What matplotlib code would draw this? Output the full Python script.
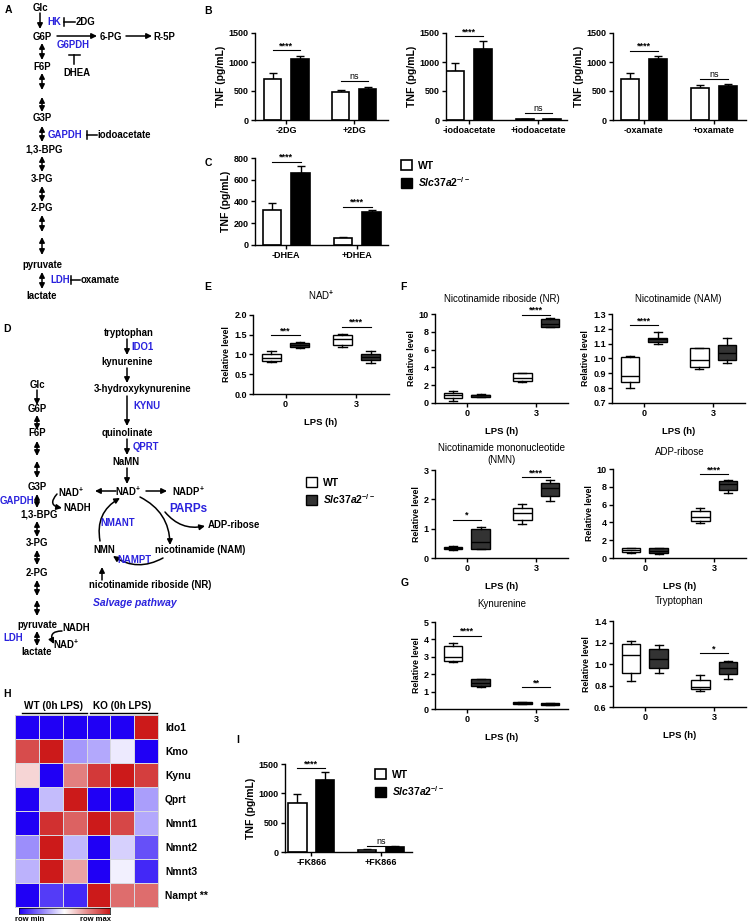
import numpy as np
import matplotlib
matplotlib.use('Agg')
import matplotlib.pyplot as plt
from matplotlib.patches import FancyArrowPatch, Patch
from matplotlib.colors import LinearSegmentedColormap

plt.rcParams['font.family'] = ['Liberation Sans', 'DejaVu Sans']
plt.rcParams['font.weight'] = 'bold'
plt.rcParams['axes.labelweight'] = 'bold'
plt.rcParams['mathtext.fontset'] = 'custom'
plt.rcParams['mathtext.rm'] = 'Liberation Sans:bold'
plt.rcParams['mathtext.it'] = 'Liberation Sans:italic:bold'
plt.rcParams['mathtext.bf'] = 'Liberation Sans:bold'
plt.rcParams['axes.linewidth'] = 1.0

KO_LABEL = r'$\mathit{Slc37a2}^{-/-}$'
BLUE = '#2a22dd'

# ---------------- data ----------------
# B: TNF with glycolysis inhibitors (WT / KO, mean and upper error)
dg_groups = ['-2DG', '+2DG']
dg_wt, dg_wt_err = [710, 480], [100, 30]
dg_ko, dg_ko_err = [1050, 530], [50, 35]

iodo_groups = ['-iodoacetate', '+iodoacetate']
iodo_wt, iodo_wt_err = [840, 10], [150, 3]
iodo_ko, iodo_ko_err = [1230, 10], [130, 3]

ox_groups = ['-oxamate', '+oxamate']
ox_wt, ox_wt_err = [710, 560], [100, 50]
ox_ko, ox_ko_err = [1050, 580], [50, 40]

# C
dhea_groups = ['-DHEA', '+DHEA']
dhea_wt, dhea_wt_err = [320, 60], [65, 15]
dhea_ko, dhea_ko_err = [660, 300], [70, 25]

# I
fk_groups = ['-FK866', '+FK866']
fk_wt, fk_wt_err = [830, 40], [160, 10]
fk_ko, fk_ko_err = [1230, 90], [140, 10]

# E-G box plots: [whisker low, q1, median, q3, whisker high] at LPS 0 h and 3 h
lps_ticks = ['0', '3']
nad_wt = [[0.82, 0.83, 0.92, 1.02, 1.08], [1.20, 1.25, 1.38, 1.50, 1.53]]
nad_ko = [[1.17, 1.18, 1.24, 1.30, 1.31], [0.78, 0.85, 0.93, 1.02, 1.10]]
nr_wt = [[0.25, 0.6, 0.85, 1.1, 1.3], [2.4, 2.5, 2.8, 3.4, 3.4]]
nr_ko = [[0.7, 0.72, 0.85, 0.95, 1.0], [8.5, 8.5, 8.9, 9.4, 9.5]]
nam_wt = [[0.80, 0.84, 0.88, 1.01, 1.02], [0.93, 0.94, 0.99, 1.07, 1.07]]
nam_ko = [[1.10, 1.11, 1.13, 1.14, 1.18], [0.97, 0.99, 1.04, 1.09, 1.14]]
nmn_wt = [[0.28, 0.30, 0.33, 0.38, 0.40], [1.17, 1.30, 1.52, 1.72, 1.85]]
nmn_ko = [[0.30, 0.30, 0.55, 1.00, 1.05], [1.95, 2.13, 2.38, 2.55, 2.65]]
adp_wt = [[0.6, 0.7, 0.9, 1.1, 1.15], [3.9, 4.2, 4.6, 5.3, 5.6]]
adp_ko = [[0.5, 0.6, 0.8, 1.1, 1.1], [7.3, 7.6, 8.3, 8.6, 8.8]]
kyn_wt = [[2.7, 2.75, 3.0, 3.6, 3.8], [0.28, 0.30, 0.35, 0.40, 0.42]]
kyn_ko = [[1.25, 1.35, 1.5, 1.7, 1.75], [0.22, 0.25, 0.28, 0.32, 0.33]]
trp_wt = [[0.84, 0.92, 1.08, 1.19, 1.21], [0.75, 0.77, 0.79, 0.85, 0.90]]
trp_ko = [[0.92, 0.96, 1.05, 1.14, 1.18], [0.86, 0.91, 0.96, 1.02, 1.03]]

# H heatmap (row-scaled 0 = row min, 1 = row max)
hm_genes = ['Ido1', 'Kmo', 'Kynu', 'Qprt', 'Nmnt1', 'Nmnt2', 'Nmnt3', 'Nampt **']
hm_ido1 = [0.0, 0.0, 0.0, 0.0, 0.0, 1.0]
hm_kmo = [0.89, 1.0, 0.30, 0.33, 0.46, 0.0]
hm_kynu = [0.59, 0.0, 0.78, 0.93, 1.0, 0.92]
hm_qprt = [0.0, 0.37, 1.0, 0.0, 0.0, 0.31]
hm_nmnt1 = [0.0, 0.95, 0.84, 1.0, 0.90, 0.33]
hm_nmnt2 = [0.28, 1.0, 0.36, 0.0, 0.41, 0.16]
hm_nmnt3 = [0.35, 1.0, 0.70, 0.0, 0.47, 0.08]
hm_nampt = [0.0, 0.12, 0.08, 1.0, 0.82, 0.82]

W, H = 748, 922
fig = plt.figure(figsize=(W / 100, H / 100), dpi=100)


def px_axes(x0, y0, x1, y1):
    return fig.add_axes([x0 / W, 1 - y1 / H, (x1 - x0) / W, (y1 - y0) / H])


def style(ax):
    ax.spines['top'].set_visible(False)
    ax.spines['right'].set_visible(False)
    ax.tick_params(direction='out', length=3, width=1, labelsize=6.5, pad=1.5)


def sig(ax, x0, x1, y, lab):
    ax.plot([x0, x1], [y, y], color='k', lw=0.8, clip_on=False)
    ax.text((x0 + x1) / 2, y, lab, ha='center', va='bottom', fontsize=6.5,
            fontweight='normal' if lab == 'ns' else 'bold', clip_on=False)


def bar_panel(box, xlim, groups, wt, wt_err, ko, ko_err, ylim, yticks, sigs):
    ax = px_axes(*box)
    x = np.arange(len(groups))
    ax.bar(x - 0.2, wt, 0.26, color='white', edgecolor='k', lw=1.2, zorder=2)
    ax.bar(x + 0.2, ko, 0.26, color='k', edgecolor='k', lw=1.2, zorder=2)
    ax.errorbar(x - 0.2, wt, yerr=[np.zeros(len(wt)), wt_err], fmt='none',
                ecolor='k', capsize=3, elinewidth=1, capthick=1, zorder=1)
    ax.errorbar(x + 0.2, ko, yerr=[np.zeros(len(ko)), ko_err], fmt='none',
                ecolor='k', capsize=3, elinewidth=1, capthick=1, zorder=1)
    style(ax)
    ax.set_xlim(xlim)
    ax.set_ylim(ylim)
    ax.set_yticks(yticks)
    ax.set_xticks(x, groups)
    ax.set_ylabel('TNF (pg/mL)', fontsize=7.5, labelpad=2)
    for i, (lab, y) in enumerate(sigs):
        sig(ax, i - 0.2, i + 0.2, y, lab)
    return ax


def stats(s):
    return dict(whislo=s[0], q1=s[1], med=s[2], q3=s[3], whishi=s[4], fliers=[])


def box_panel(box, title, wt, ko, ylim, yticks, sigs, fmt='{:g}', tpad=9):
    ax = px_axes(*box)
    for data, pos, fc in [(wt, [-0.2, 0.8], 'white'), (ko, [0.2, 1.2], '#333333')]:
        ax.bxp([stats(s) for s in data], positions=pos, widths=0.27, capwidths=0.12,
               patch_artist=True, showfliers=False, manage_ticks=False,
               boxprops=dict(facecolor=fc, edgecolor='k', lw=1),
               medianprops=dict(color='k', lw=1),
               whiskerprops=dict(color='k', lw=1), capprops=dict(color='k', lw=1))
    style(ax)
    ax.set_xlim(-0.46, 1.46)
    ax.set_ylim(ylim)
    ax.set_yticks(yticks, [fmt.format(v) for v in yticks])
    ax.set_xticks([0, 1], lps_ticks)
    ax.set_xlabel('LPS (h)', fontsize=6.8, labelpad=6)
    ax.set_ylabel('Relative level', fontsize=6.3, labelpad=2)
    ax.set_title(title, fontsize=7, fontweight='normal', pad=tpad)
    for g, lab, y in sigs:
        sig(ax, g - 0.2, g + 0.2, y, lab)
    return ax


# ---------------- B, C, I ----------------
bar_panel((255, 33, 388, 120), (-0.46, 1.5), dg_groups, dg_wt, dg_wt_err, dg_ko, dg_ko_err,
          (0, 1500), [0, 500, 1000, 1500], [('****', 1200), ('ns', 680)])
bar_panel((446, 33, 567, 120), (-0.33, 1.41), iodo_groups, iodo_wt, iodo_wt_err, iodo_ko,
          iodo_ko_err, (0, 1500), [0, 500, 1000, 1500], [('****', 1445), ('ns', 125)])
bar_panel((613, 33, 746, 120), (-0.44, 1.46), ox_groups, ox_wt, ox_wt_err, ox_ko, ox_ko_err,
          (0, 1500), [0, 500, 1000, 1500], [('****', 1195), ('ns', 705)])
bar_panel((255, 158, 388, 245), (-0.44, 1.43), dhea_groups, dhea_wt, dhea_wt_err, dhea_ko,
          dhea_ko_err, (0, 800), [0, 200, 400, 600, 800], [('****', 766), ('****', 352)])
bar_panel((285, 764, 412, 852), (-0.38, 1.45), fk_groups, fk_wt, fk_wt_err, fk_ko, fk_ko_err,
          (0, 1500), [0, 500, 1000, 1500], [('****', 1430), ('ns', 110)])

# ---------------- E, F, G ----------------
box_panel((253, 315, 389, 394), 'NAD$^{+}$', nad_wt, nad_ko, (0, 2), [0, 0.5, 1.0, 1.5, 2.0],
          [(0, '***', 1.49), (1, '****', 1.70)], fmt='{:.1f}', tpad=11)
box_panel((435, 314, 568, 403), 'Nicotinamide riboside (NR)', nr_wt, nr_ko, (0, 10),
          [0, 2, 4, 6, 8, 10], [(1, '****', 9.9)])
box_panel((612, 314, 745, 403), 'Nicotinamide (NAM)', nam_wt, nam_ko, (0.7, 1.3),
          [0.7, 0.8, 0.9, 1.0, 1.1, 1.2, 1.3], [(0, '****', 1.225)], fmt='{:.1f}')
box_panel((435, 470, 568, 558), 'Nicotinamide mononucleotide\n(NMN)', nmn_wt, nmn_ko, (0, 3),
          [0, 1, 2, 3], [(0, '*', 1.3), (1, '****', 2.75)], tpad=5)
box_panel((613, 469, 746, 558), 'ADP-ribose', adp_wt, adp_ko, (0, 10), [0, 2, 4, 6, 8, 10],
          [(1, '****', 9.4)], tpad=10)
box_panel((435, 622, 568, 709), 'Kynurenine', kyn_wt, kyn_ko, (0, 5), [0, 1, 2, 3, 4, 5],
          [(0, '****', 4.2), (1, '**', 1.26)], tpad=11)
box_panel((613, 621, 746, 707), 'Tryptophan', trp_wt, trp_ko, (0.6, 1.4),
          [0.6, 0.8, 1.0, 1.2, 1.4], [(1, '*', 1.10)], fmt='{:.1f}', tpad=12)

# legends
leg_bar = [Patch(facecolor='white', edgecolor='k', lw=1.2), Patch(facecolor='k', edgecolor='k')]
leg_box = [Patch(facecolor='white', edgecolor='k', lw=1), Patch(facecolor='#333333', edgecolor='k')]
for handles, (lx, ly) in [(leg_bar, (401, 160)), (leg_bar, (375, 769)), (leg_box, (306, 477))]:
    fig.legend(handles, ['WT', KO_LABEL], loc='upper left', bbox_to_anchor=(lx / W, 1 - ly / H),
               frameon=False, handlelength=1.1, handleheight=1.1, handletextpad=0.5,
               labelspacing=0.45, borderpad=0, borderaxespad=0,
               prop=dict(size=7.5, weight='bold'))

# ---------------- H heatmap ----------------
hm = np.array([hm_ido1, hm_kmo, hm_kynu, hm_qprt, hm_nmnt1, hm_nmnt2, hm_nmnt3, hm_nampt])
cmap = LinearSegmentedColormap.from_list('rowmm', ['#2000f5', '#ffffff', '#cc1a1a'])
axh = px_axes(15, 715, 158, 907)
axh.pcolormesh(hm, cmap=cmap, vmin=0, vmax=1, edgecolors='#d8d8e0', linewidth=0.7)
axh.set_xlim(0, 6)
axh.set_ylim(8, 0)
axh.set_xticks([])
axh.yaxis.tick_right()
axh.set_yticks(np.arange(8) + 0.5, hm_genes)
axh.tick_params(length=0, pad=5, labelsize=7.4)
for sp in axh.spines.values():
    sp.set_color('#cccccc')
    sp.set_linewidth(0.6)

axc = px_axes(19, 908, 110, 914)
axc.imshow(np.linspace(0, 1, 256)[None, :], aspect='auto', cmap=cmap)
axc.set_xticks([])
axc.set_yticks([])
for sp in axc.spines.values():
    sp.set_linewidth(0.5)

# ---------------- overlay: pathway diagrams and labels ----------------
ov = fig.add_axes([0, 0, 1, 1])
ov.set_xlim(0, W)
ov.set_ylim(H, 0)
ov.axis('off')


def t(x, y, s, c='k', ha='center', size=6.9, **kw):
    ov.text(x, y, s, color=c, ha=ha, va='center', fontsize=size, fontweight='bold', **kw)


def a(x0, y0, x1, y1, st='-|>', rad=0.0):
    ov.add_patch(FancyArrowPatch((x0, y0), (x1, y1), arrowstyle=st,
                                 connectionstyle=f'arc3,rad={rad}', mutation_scale=8,
                                 lw=1.1, color='k', shrinkA=0, shrinkB=0))


def d(x, y0, y1):
    a(x, y0, x, y1, st='<|-|>')


def inh(x, y, L):
    ov.plot([x, x], [y - 4, y + 4], color='k', lw=1.1)
    ov.plot([x, x + L], [y, y], color='k', lw=1.1)


# panel letters
for lab, x, y in [('A', 8, 10), ('B', 208, 11), ('C', 208, 163), ('D', 7, 329),
                  ('E', 208, 287), ('F', 403, 287), ('G', 405, 583), ('H', 7, 694),
                  ('I', 238, 740)]:
    t(x, y, lab, ha='center', size=7.5)

# A
t(40, 8, 'Glc'); a(40, 13, 40, 29)
t(47, 22, 'HK', BLUE, ha='left'); inh(64, 22, 11); t(76, 22, '2DG', ha='left')
t(42, 37, 'G6P'); a(57, 36, 97, 36); t(111, 37, '6-PG'); a(126, 36, 152, 36)
t(153, 37, 'R-5P', ha='left')
t(57, 45, 'G6PDH', BLUE, ha='left')
ov.plot([69, 80], [55, 55], color='k', lw=1.1); ov.plot([74.5, 74.5], [55, 64], color='k', lw=1.1)
t(77, 73, 'DHEA')
d(42, 43, 60); t(42, 67, 'F6P'); d(42, 73, 90); d(42, 97, 112)
t(42, 118, 'G3P'); d(42, 126, 142)
t(48, 135, 'GAPDH', BLUE, ha='left'); inh(87, 135, 10); t(97, 135, 'iodoacetate', ha='left')
t(44, 149, '1,3-BPG'); d(42, 156, 172); t(42, 179, '3-PG'); d(42, 186, 202)
t(42, 208, '2-PG'); d(42, 215, 232); d(42, 237, 255); t(42, 265, 'pyruvate')
d(42, 272, 289); t(50, 280, 'LDH', BLUE, ha='left'); inh(71, 280, 9)
t(81, 280, 'oxamate', ha='left'); t(42, 296, 'lactate')

# D left (glycolysis)
t(37, 385, 'Glc'); a(37, 390, 37, 405); t(37, 409, 'G6P'); d(37, 415, 430)
t(37, 433, 'F6P'); d(37, 441, 456); d(37, 461, 478); t(37, 487, 'G3P'); d(37, 494, 508)
t(17, 501, 'GAPDH', BLUE); t(39, 514, '1,3-BPG'); d(37, 521, 537); t(37, 543, '3-PG')
d(37, 550, 565); t(37, 573, '2-PG'); d(37, 580, 596); d(37, 600, 616)
t(37, 625, 'pyruvate'); d(37, 631, 646); t(13, 638, 'LDH', BLUE); t(37, 652, 'lactate')
t(71, 492, 'NAD$^{+}$'); t(77, 508, 'NADH'); a(57, 494, 62, 508, rad=0.9)
t(76, 628, 'NADH'); t(66, 644, 'NAD$^{+}$'); a(62, 631, 54, 644, rad=0.8)

# D right (NAD synthesis / salvage)
t(129, 333, 'tryptophan'); a(127, 339, 127, 355); t(131, 347, 'IDO1', BLUE, ha='left')
t(127, 362, 'kynurenine'); a(127, 368, 127, 383)
t(143, 389, '3-hydroxykynurenine'); a(127, 396, 127, 426); t(133, 406, 'KYNU', BLUE, ha='left')
t(127, 433, 'quinolinate'); a(127, 439, 127, 455); t(133, 447, 'QPRT', BLUE, ha='left')
t(126, 462, 'NaMN'); a(127, 468, 127, 484)
t(128, 491, 'NAD$^{+}$'); a(116, 491, 95, 491); a(146, 491, 167, 491)
t(189, 491, 'NADP$^{+}$')
a(140, 497, 170, 545, rad=-0.3)
a(163, 558, 113, 556, rad=-0.3)
a(100, 541, 120, 498, rad=-0.35)
t(200, 550, 'nicotinamide (NAM)'); t(104, 550, 'NMN')
t(118, 523, 'NMANT', BLUE); t(134, 560, 'NAMPT', BLUE); t(188, 509, 'PARPs', BLUE, size=8.5)
a(165, 512, 205, 526, rad=0.3); t(208, 525, 'ADP-ribose', ha='left')
a(102, 580, 102, 567); t(150, 585, 'nicotinamide riboside (NR)')
t(135, 603, 'Salvage pathway', BLUE, size=7.5, style='italic')

# H header
t(54, 706, 'WT (0h LPS)', size=7.2); t(122, 706, 'KO (0h LPS)', size=7.2)
ov.plot([22, 87], [713, 713], color='k', lw=1)
ov.plot([90, 157], [713, 713], color='k', lw=1)
ov.text(30, 919, 'row min', ha='center', va='center', fontsize=5.5)
ov.text(96, 919, 'row max', ha='center', va='center', fontsize=5.5)

fig.savefig('out.png', dpi=100)
